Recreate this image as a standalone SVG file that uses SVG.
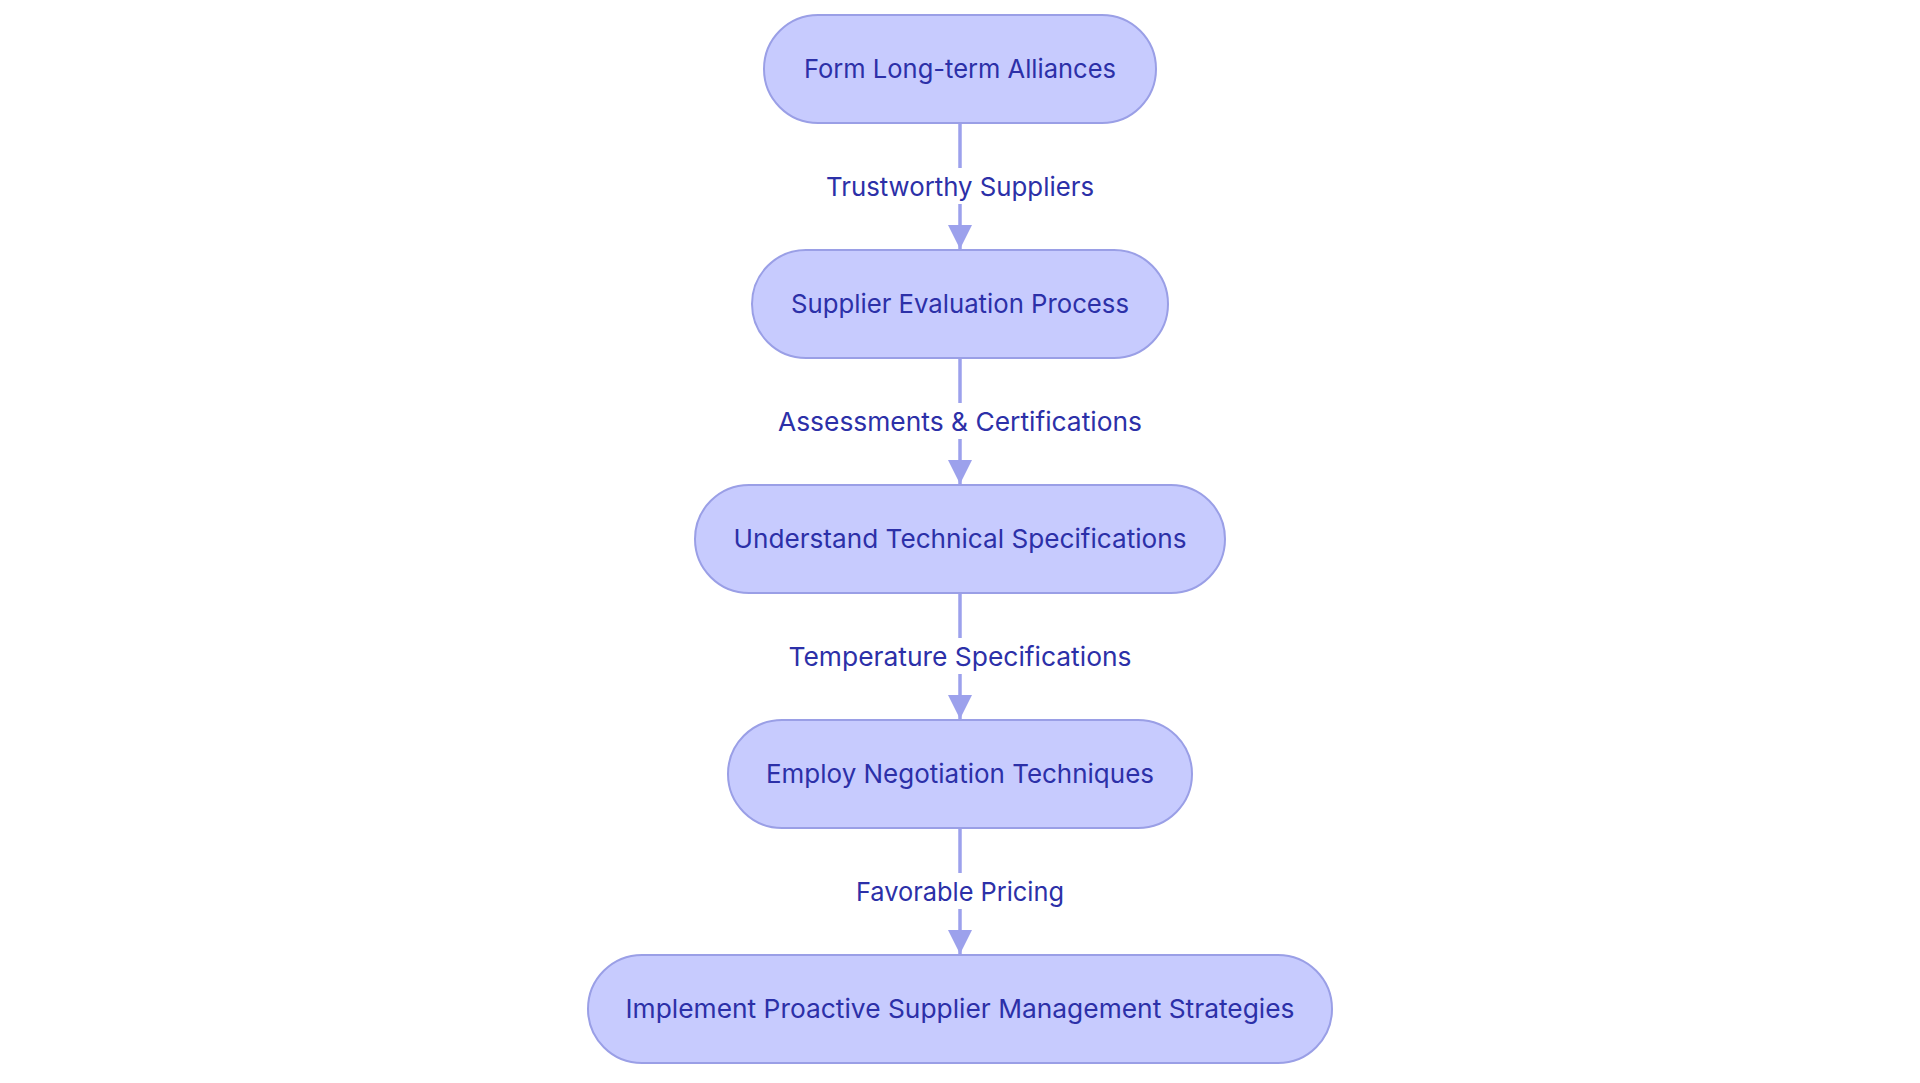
<svg xmlns="http://www.w3.org/2000/svg" width="1920" height="1083" viewBox="0 0 1920 1083">
<style>
.node rect{fill:#c7cbfe;stroke:#9a9fe6;stroke-width:2}
.node text{font-family:Inter,"Noto Sans","Liberation Sans",sans-serif;font-size:26px;fill:#2c30a8;text-anchor:middle;dominant-baseline:central}
.edge line{stroke:#9ca1ec;stroke-width:3.5}
.elabel rect{fill:#ffffff}
.elabel text{font-family:Inter,"Noto Sans","Liberation Sans",sans-serif;font-size:26px;fill:#2c30a8;text-anchor:middle;dominant-baseline:central}
</style>
<defs>
<marker id="arr" viewBox="0 0 12 12" refX="12" refY="6" markerWidth="7" markerHeight="7" orient="auto" markerUnits="strokeWidth">
<path d="M0,0 L12,6 L0,12 z" fill="#9ca1ec"/>
</marker>
</defs>
<rect width="1920" height="1083" fill="#ffffff"/>
<g id="connectors">
<g class="edge"><line x1="960" y1="123" x2="960" y2="249" marker-end="url(#arr)"/></g>
<g class="edge"><line x1="960" y1="358" x2="960" y2="484" marker-end="url(#arr)"/></g>
<g class="edge"><line x1="960" y1="593" x2="960" y2="719" marker-end="url(#arr)"/></g>
<g class="edge"><line x1="960" y1="828" x2="960" y2="954" marker-end="url(#arr)"/></g>
<g class="elabel"><rect x="822" y="168" width="276" height="36"/><text x="960" y="186" textLength="268" lengthAdjust="spacingAndGlyphs">Trustworthy Suppliers</text></g>
<g class="elabel"><rect x="774" y="403" width="372" height="36"/><text x="960" y="421" textLength="364" lengthAdjust="spacingAndGlyphs">Assessments &amp; Certifications</text></g>
<g class="elabel"><rect x="784" y="638" width="352" height="36"/><text x="960" y="656" textLength="343" lengthAdjust="spacingAndGlyphs">Temperature Specifications</text></g>
<g class="elabel"><rect x="852" y="873" width="216" height="36"/><text x="960" y="891" textLength="208" lengthAdjust="spacingAndGlyphs">Favorable Pricing</text></g>
</g>
<g id="n1" class="node"><rect x="764" y="15" width="392" height="108" rx="54"/><text x="960" y="68" textLength="312" lengthAdjust="spacingAndGlyphs">Form Long-term Alliances</text></g>
<g id="n2" class="node"><rect x="752" y="250" width="416" height="108" rx="54"/><text x="960" y="303" textLength="338" lengthAdjust="spacingAndGlyphs">Supplier Evaluation Process</text></g>
<g id="n3" class="node"><rect x="695" y="485" width="530" height="108" rx="54"/><text x="960" y="538" textLength="453" lengthAdjust="spacingAndGlyphs">Understand Technical Specifications</text></g>
<g id="n4" class="node"><rect x="728" y="720" width="464" height="108" rx="54"/><text x="960" y="773" textLength="388" lengthAdjust="spacingAndGlyphs">Employ Negotiation Techniques</text></g>
<g id="n5" class="node"><rect x="588" y="955" width="744" height="108" rx="54"/><text x="960" y="1008" textLength="669" lengthAdjust="spacingAndGlyphs">Implement Proactive Supplier Management Strategies</text></g>
</svg>
